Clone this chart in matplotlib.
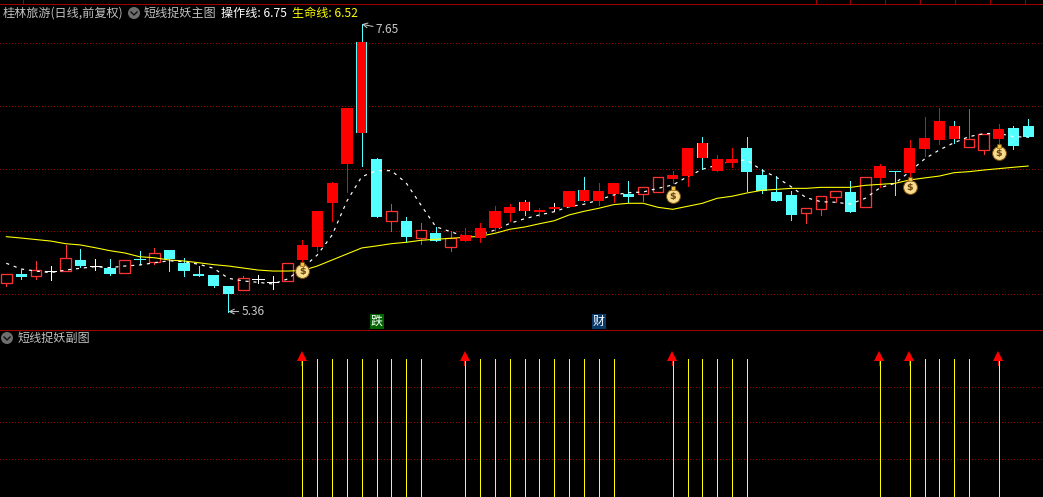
import matplotlib
matplotlib.use('Agg')
from matplotlib import pyplot as plt
from matplotlib.patches import Circle

plt.rcParams['font.family'] = ['Noto Sans CJK SC', 'DejaVu Sans']

# K线数据
body_top = [5.66, 5.66, 5.69, 5.68, 5.79, 5.77, 5.72, 5.71, 5.77, 5.78,
            5.83, 5.85, 5.75, 5.66, 5.65, 5.565, 5.63, 5.62, 5.595, 5.75,
            5.89, 6.16, 6.385, 6.98, 7.51, 6.575, 6.16, 6.08, 6.01, 5.985,
            5.95, 5.97, 6.03, 6.16, 6.19, 6.23, 6.17, 6.185, 6.32, 6.33,
            6.32, 6.385, 6.30, 6.35, 6.43, 6.45, 6.665, 6.70, 6.575, 6.575,
            6.665, 6.45, 6.31, 6.29, 6.185, 6.285, 6.32, 6.31, 6.43, 6.52,
            6.48, 6.665, 6.74, 6.88, 6.84, 6.735, 6.775, 6.815, 6.825, 6.84]
body_bot = [5.59, 5.635, 5.64, 5.68, 5.68, 5.72, 5.72, 5.66, 5.67, 5.78,
            5.755, 5.775, 5.68, 5.64, 5.565, 5.50, 5.53, 5.62, 5.595, 5.60,
            5.77, 5.875, 6.225, 6.54, 6.785, 6.115, 6.085, 5.955, 5.95, 5.925,
            5.875, 5.925, 5.95, 6.03, 6.145, 6.16, 6.155, 6.18, 6.19, 6.245,
            6.24, 6.30, 6.27, 6.30, 6.315, 6.415, 6.44, 6.58, 6.48, 6.545,
            6.47, 6.32, 6.24, 6.13, 6.145, 6.18, 6.275, 6.155, 6.195, 6.425,
            6.48, 6.465, 6.655, 6.73, 6.735, 6.67, 6.65, 6.735, 6.68, 6.75]
highs = [5.66, 5.69, 5.76, 5.72, 5.89, 5.86, 5.78, 5.78, 5.77, 5.84,
         5.87, 5.85, 5.79, 5.72, 5.65, 5.565, 5.64, 5.65, 5.64, 5.75,
         5.93, 6.16, 6.39, 6.98, 7.65, 6.585, 6.22, 6.11, 6.065, 6.035,
         6.00, 6.03, 6.065, 6.20, 6.215, 6.25, 6.185, 6.225, 6.32, 6.43,
         6.385, 6.385, 6.40, 6.35, 6.43, 6.48, 6.665, 6.75, 6.61, 6.665,
         6.75, 6.50, 6.44, 6.32, 6.185, 6.285, 6.32, 6.40, 6.43, 6.535,
         6.48, 6.73, 6.91, 6.98, 6.88, 6.975, 6.775, 6.855, 6.84, 6.895]
lows = [5.56, 5.62, 5.62, 5.61, 5.68, 5.715, 5.69, 5.65, 5.67, 5.74,
        5.74, 5.68, 5.64, 5.64, 5.555, 5.36, 5.53, 5.59, 5.54, 5.60,
        5.75, 5.84, 6.085, 6.31, 6.52, 6.115, 6.00, 5.915, 5.90, 5.925,
        5.845, 5.925, 5.915, 6.00, 6.08, 6.13, 6.12, 6.165, 6.19, 6.24,
        6.21, 6.235, 6.235, 6.24, 6.315, 6.385, 6.36, 6.50, 6.48, 6.51,
        6.32, 6.305, 6.24, 6.09, 6.065, 6.13, 6.235, 6.155, 6.195, 6.35,
        6.29, 6.44, 6.60, 6.695, 6.705, 6.67, 6.615, 6.69, 6.655, 6.75]
# H空心红 R实心红 C青 W白十字 T青十字 E红体青边 D红体白影
kinds = ['H', 'C', 'H', 'W', 'H', 'C', 'W', 'C', 'H', 'T',
         'H', 'C', 'C', 'C', 'C', 'C', 'H', 'W', 'W', 'H',
         'R', 'R', 'R', 'R', 'E', 'C', 'H', 'C', 'H', 'C',
         'H', 'R', 'R', 'R', 'R', 'E', 'R', 'D', 'R', 'E',
         'R', 'R', 'C', 'H', 'H', 'R', 'R', 'E', 'R', 'R',
         'C', 'C', 'C', 'C', 'H', 'H', 'H', 'C', 'H', 'R',
         'T', 'R', 'R', 'R', 'E', 'H', 'H', 'R', 'C', 'C']

# 生命线
life_line = [5.957, 5.946, 5.934, 5.922, 5.901, 5.891, 5.869, 5.845, 5.827, 5.797,
             5.789, 5.771, 5.763, 5.749, 5.734, 5.723, 5.707, 5.691, 5.683, 5.683,
             5.687, 5.723, 5.771, 5.819, 5.867, 5.883, 5.901, 5.912, 5.928, 5.936,
             5.944, 5.952, 5.960, 5.984, 6.016, 6.034, 6.060, 6.084, 6.130, 6.159,
             6.183, 6.212, 6.223, 6.223, 6.191, 6.175, 6.199, 6.223, 6.263, 6.279,
             6.305, 6.326, 6.334, 6.342, 6.342, 6.350, 6.350, 6.350, 6.366, 6.374,
             6.382, 6.409, 6.425, 6.440, 6.467, 6.475, 6.488, 6.499, 6.510, 6.52]
# 操作线
op_line = [5.745, 5.699, 5.683, 5.670, 5.691, 5.705, 5.718, 5.710, 5.723, 5.731,
           5.749, 5.765, 5.757, 5.737, 5.705, 5.625, 5.604, 5.593, 5.580, 5.620,
           5.707, 5.811, 5.970, 6.241, 6.435, 6.483, 6.483, 6.385, 6.209, 6.036,
           5.997, 5.957, 5.970, 6.010, 6.063, 6.100, 6.130, 6.156, 6.196, 6.215,
           6.249, 6.289, 6.307, 6.313, 6.342, 6.369, 6.435, 6.494, 6.528, 6.560,
           6.568, 6.488, 6.430, 6.355, 6.268, 6.236, 6.231, 6.217, 6.263, 6.347,
           6.382, 6.475, 6.576, 6.648, 6.706, 6.754, 6.778, 6.781, 6.754, 6.75]

bag_idx = [20, 45, 61, 67]
bag_price = [5.683, 6.281, 6.353, 6.62]
arrow_idx = [20, 31, 45, 59, 61, 67]
signal_idx = [20, 21, 22, 23, 24, 25, 26, 27, 28,
              31, 32, 33, 34, 35, 36, 37, 38, 39, 40, 41,
              45, 46, 47, 48, 49, 50,
              59, 61, 62, 63, 64, 65, 67]
price_grid = [7.5, 7.0, 6.5, 6.0, 5.5]
sub_grid = [0.273, 0.54, 0.80]
top_ticks = [23, 816, 850, 885, 920, 955, 990, 1025]

RED = '#ff0000'
HOLLOW = '#ff3232'
CYAN = '#54ffff'
GRID = '#a00000'
W, H = 1043, 497
SPLIT = 329.5
PX = 0.72  # 1 像素对应的磅数
DOTS = (0, (1.1, 3.3))

fig = plt.figure(figsize=(W / 100, H / 100), dpi=100, facecolor='black')
ax = fig.add_axes([0, (H - SPLIT) / H, 1, SPLIT / H], facecolor='black')
ax2 = fig.add_axes([0, 0, 1, (H - SPLIT) / H], facecolor='black')
for a in (ax, ax2):
    a.set_axis_off()
    a.set_xlim(-0.425, 70.0)
ax.set_ylim(5.5 + (294 - SPLIT) * 0.00797, 5.5 + 294 * 0.00797)
ax2.set_ylim(0, (H - SPLIT) / 138)

for y in price_grid:
    ax.axhline(y, color=GRID, lw=0.65, ls=DOTS, antialiased=False, zorder=1)
for y in sub_grid:
    ax2.axhline(y, color=GRID, lw=0.65, ls=DOTS, antialiased=False, zorder=1)

wick_colors = {'H': HOLLOW, 'R': RED, 'C': CYAN, 'W': 'white', 'T': CYAN, 'E': CYAN, 'D': 'white'}
body_w = 11.2 / 14.81
for i, k in enumerate(kinds):
    ax.vlines(i, lows[i], highs[i], color=wick_colors[k], lw=PX * 0.95, antialiased=False, zorder=2)
    h = body_top[i] - body_bot[i]
    if k in 'WT':
        ax.hlines(body_top[i], i - body_w / 2, i + body_w / 2, color=wick_colors[k], lw=PX * 0.95,
                  antialiased=False, zorder=3)
    elif k == 'H':
        ax.bar(i, h, body_w * 0.95, body_bot[i], facecolor='black', edgecolor=HOLLOW, lw=PX * 1.3, zorder=3)
    elif k == 'C':
        ax.bar(i, h, body_w, body_bot[i], color=CYAN, lw=0, antialiased=False, zorder=3)
    elif k == 'E':
        ax.bar(i, h, body_w, body_bot[i], color=CYAN, lw=0, antialiased=False, zorder=5.5)
        ax.bar(i, h, body_w * 0.84, body_bot[i], color=RED, lw=0, antialiased=False, zorder=5.6)
    else:
        # 实心红体盖住两条均线
        ax.bar(i, max(h, 0.012), body_w, body_bot[i], color=RED, lw=0, antialiased=False, zorder=5.5)

xs = list(range(len(life_line)))
ax.plot(xs, life_line, color='#ffff00', lw=PX * 1.1, zorder=4)
ax.plot(xs, op_line, color='white', lw=PX * 1.2, ls=(0, (2.6, 4)), zorder=5)

# 钱袋
for i, p in zip(bag_idx, bag_price):
    ax.plot(i, p, 'o', ms=10, mfc='#f6dc8c', mec='#7a4a10', mew=0.7, zorder=6)
    ax.plot(i, p + 0.06, 's', ms=3.4, mfc='#f0c040', mec='#7a4a10', mew=0.4, zorder=6)
    ax.text(i, p - 0.003, '$', color='#6a4010', fontsize=6.8, fontweight='bold', ha='center',
            va='center', family='DejaVu Sans', zorder=7)

# 最高最低价标记
ax.annotate('7.65', xy=(24, highs[24]), xytext=(14, -5), textcoords='offset pixels',
            color='#c8c8c8', fontsize=8.6, va='center',
            arrowprops=dict(arrowstyle='->', color='#c8c8c8', lw=PX, shrinkA=0, shrinkB=0), zorder=8)
ax.annotate('5.36', xy=(15, lows[15]), xytext=(13, 0), textcoords='offset pixels',
            color='#c8c8c8', fontsize=8.6, va='center',
            arrowprops=dict(arrowstyle='->', color='#c8c8c8', lw=PX, shrinkA=0, shrinkB=0), zorder=8)

ax.text(25, 5.281, '跌', color='white', fontsize=8.6, ha='center', va='center',
        bbox=dict(facecolor='#006400', edgecolor='none', pad=0.8), zorder=8)
ax.text(40, 5.281, '财', color='white', fontsize=8.6, ha='center', va='center',
        bbox=dict(facecolor='#0a3a6a', edgecolor='none', pad=0.8), zorder=8)

# 副图信号
ax2.vlines(signal_idx, 0, 1, color='#ffff00', lw=PX * 0.95, antialiased=False, zorder=3)
for i in arrow_idx:
    ax2.vlines(i - 0.07, 0.96, 1.0, color=RED, lw=PX * 0.95, antialiased=False, zorder=4)
ax2.plot([i - 0.05 for i in arrow_idx], [1.02] * len(arrow_idx), '^', color=RED, ms=7.4, mew=0, zorder=4)

# 边框与分隔线
fig.add_artist(plt.Line2D([0, 1], [1 - 3.5 / H] * 2, color=GRID, lw=PX))
fig.add_artist(plt.Line2D([0, 1], [1 - SPLIT / H] * 2, color=GRID, lw=PX))
for x in top_ticks:
    fig.add_artist(plt.Line2D([x / W] * 2, [1 - 3.5 / H, 1], color=GRID, lw=PX))

def label(x, y, s, color='#c0c0c0'):
    fig.text(x / W, 1 - y / H, s, color=color, fontsize=8.7, va='center', ha='left')

def icon(x, y):
    fig.add_artist(Circle((x, H - y), 6, transform=None, facecolor='#6e6e6e', edgecolor='none'))
    fig.add_artist(plt.Line2D([(x - 3) / W, x / W, (x + 3) / W],
                              [1 - (y - 1) / H, 1 - (y + 2) / H, 1 - (y - 1) / H], color='#101010', lw=1.0))

label(3, 13, '桂林旅游(日线,前复权)')
icon(134, 13)
label(144, 13, '短线捉妖主图')
label(221, 13, '操作线: 6.75', 'white')
label(292, 13, '生命线: 6.52', '#ffff00')
icon(7, 338)
label(18, 338, '短线捉妖副图')

fig.savefig('out.png', dpi=100, facecolor='black')
